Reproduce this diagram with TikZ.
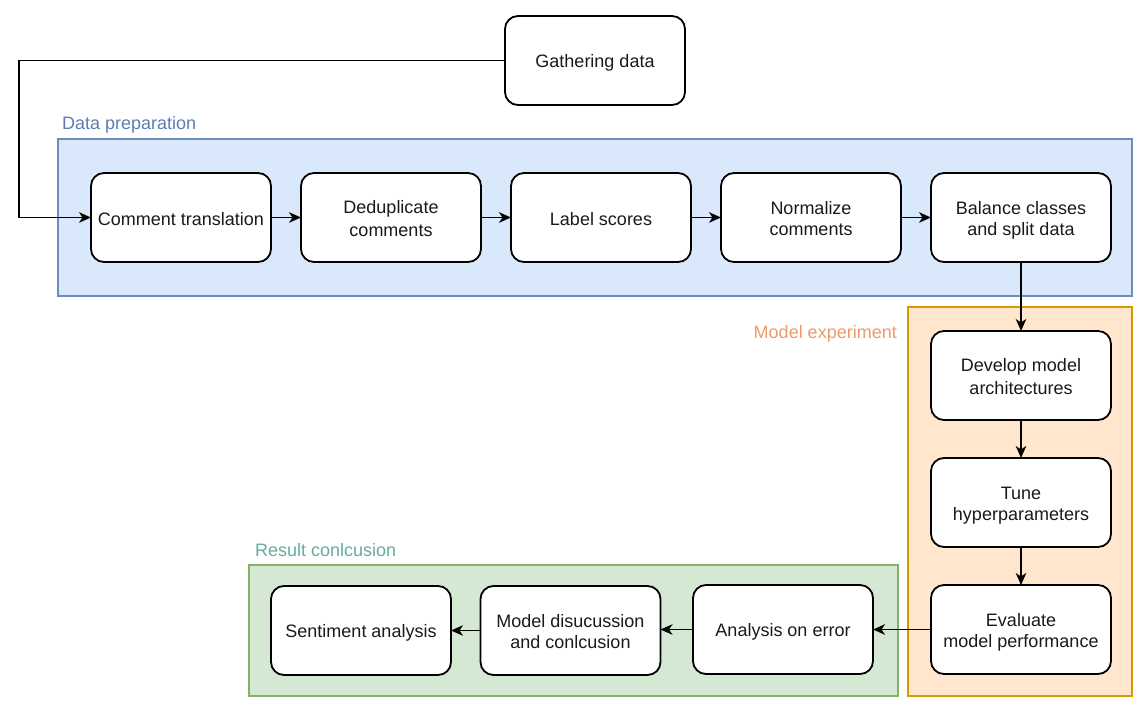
\documentclass[tikz,border=0pt]{standalone}
\usepackage{fontspec}
\setmainfont{Liberation Sans}
\usetikzlibrary{arrows.meta}
\definecolor{dpfill}{HTML}{DAE8FC}
\definecolor{dpline}{HTML}{6C8EBF}
\definecolor{dptext}{HTML}{5A7DB5}
\definecolor{mefill}{HTML}{FFE6CC}
\definecolor{meline}{HTML}{D79B00}
\definecolor{metext}{HTML}{EE9A68}
\definecolor{rcfill}{HTML}{D5E8D4}
\definecolor{rcline}{HTML}{82B366}
\definecolor{rctext}{HTML}{67AB9F}
\definecolor{txt}{HTML}{1A1A1A}
\newcommand\ls{\rule[-2.7pt]{0pt}{21pt}}
\tikzset{
  stepbox/.style={draw=black, fill=white, line width=1.8pt, rounded corners=13pt,
    minimum width=180pt, minimum height=89pt, inner sep=0pt, outer sep=0pt,
    align=center, text=txt, font=\fontsize{18}{21}\selectfont},
  groupbox/.style={line width=1.6pt, inner sep=0pt, outer sep=0pt},
  grouplabel/.style={font=\fontsize{18}{21}\selectfont, inner sep=0pt},
  arr/.style={line width=1.8pt, -{Stealth[length=12pt,width=10.5pt,inset=3.5pt]}}
}
\begin{document}
\begin{tikzpicture}[x=1pt,y=-1pt]
\useasboundingbox (0,0) rectangle (1147,711);
% groups
\node[groupbox, draw=dpline, fill=dpfill, minimum width=1074pt, minimum height=157pt] (dp) at (595,217.5) {};
\node[groupbox, draw=meline, fill=mefill, minimum width=224pt, minimum height=389pt] (me) at (1020,501.5) {};
\node[groupbox, draw=rcline, fill=rcfill, minimum width=649pt, minimum height=131pt] (rc) at (573.5,630.5) {};
\node[grouplabel, text=dptext, anchor=west] (dpl) at (62,122) {\ls Data preparation};
\node[grouplabel, text=metext, anchor=east] (mel) at (897,331) {\ls Model experiment};
\node[grouplabel, text=rctext, anchor=west] (rcl) at (255,549) {\ls Result conlcusion};
% boxes
\node[stepbox] (gd) at (595,60.5) {Gathering data\ls};
\node[stepbox] (ct) at (181,217.5) {Comment translation\ls};
\node[stepbox] (dd) at (391,217.5) {Deduplicate\ls\\comments\ls};
\node[stepbox] (ls) at (601,217.5) {Label scores\ls};
\node[stepbox] (nc) at (811,217.5) {Normalize\ls\\comments\ls};
\node[stepbox] (bc) at (1021,217.5) {Balance classes\ls\\and split data\ls};
\node[stepbox] (dm) at (1021,375.5) {Develop model\ls\\architectures\ls};
\node[stepbox] (th) at (1021,502.5) {Tune\ls\\hyperparameters\ls};
\node[stepbox] (ev) at (1021,629.5) {Evaluate\ls\\model performance\ls};
\node[stepbox] (ae) at (783,629.5) {Analysis on error\ls};
\node[stepbox] (md) at (570.5,630.5) {Model disucussion\ls\\and conlcusion\ls};
\node[stepbox] (sa) at (361,630.5) {Sentiment analysis\ls};
% connectors
\coordinate (c1) at (19,60.5);
\draw[arr] (gd.west) -- (c1) |- (ct.west);
\draw[arr] (ct) -- (dd);
\draw[arr] (dd) -- (ls);
\draw[arr] (ls) -- (nc);
\draw[arr] (nc) -- (bc);
\draw[arr] (bc) -- (dm);
\draw[arr] (dm) -- (th);
\draw[arr] (th) -- (ev);
\draw[arr] (ev) -- (ae);
\draw[arr] (ae.west) -- (md.east |- ae.west);
\draw[arr] (md) -- (sa);
\end{tikzpicture}
\end{document}
